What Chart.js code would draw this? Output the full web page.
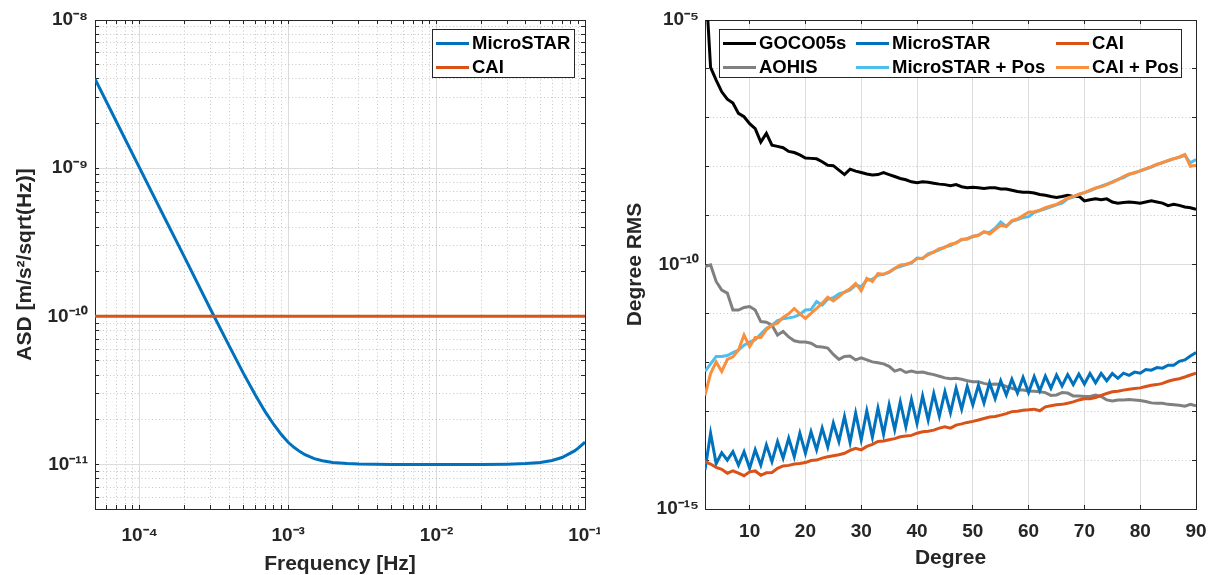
<!DOCTYPE html>
<html><head><meta charset="utf-8">
<script src="https://cdn.jsdelivr.net/npm/chart.js@4"></script>
<style>
html,body{margin:0;padding:0;background:#fff;}
#wrap{position:relative;width:1215px;height:575px;overflow:hidden;background:#fff;}
.pane{position:absolute;top:0;}
.legend{position:absolute;background:#fff;border:1px solid #262626;box-sizing:border-box;}
.item{position:absolute;display:flex;align-items:center;height:24px;font:bold 18.5px 'Liberation Sans',Arial,sans-serif;color:#000;white-space:nowrap;}
.swatch{display:inline-block;width:33px;height:3px;margin-right:3px;}
</style></head>
<body>
<div id="wrap">
 <div class="pane" style="left:0;width:600px;height:575px"><canvas id="asd" width="600" height="575"></canvas></div>
 <div class="pane" style="left:610px;width:605px;height:575px"><canvas id="rms" width="605" height="575"></canvas></div>
 <div id="legAsd" class="legend" style="left:432px;top:29px;width:143px;height:49px"></div>
 <div id="legRms" class="legend" style="left:719px;top:29px;width:463px;height:49px"></div>
</div>
<script>
// ---------- LEFT PANEL DATA (ASD vs frequency) ----------
const asdFreq = [5e-5, 7e-5, 1e-4, 1.5e-4, 2e-4, 3e-4, 4e-4, 5e-4, 6e-4, 7e-4, 8e-4, 9e-4, 1e-3, 1.1e-3, 1.2e-3, 1.3e-3, 1.5e-3, 1.7e-3, 2e-3, 2.5e-3, 3e-3, 5e-3, 1e-2, 2e-2, 3e-2, 4e-2, 5e-2, 6e-2, 7e-2, 8.5e-2, 9e-2, 1e-1];
const asdMicroSTAR = [4.0e-9, 2.04e-9, 1.0e-9, 4.45e-10, 2.52e-10, 1.115e-10, 6.33e-11, 4.12e-11, 2.95e-11, 2.27e-11, 1.86e-11, 1.59e-11, 1.41e-11, 1.30e-11, 1.22e-11, 1.162e-11, 1.094e-11, 1.058e-11, 1.03e-11, 1.013e-11, 1.006e-11, 1.0e-11, 1.0e-11, 1.0e-11, 1.004e-11, 1.013e-11, 1.03e-11, 1.063e-11, 1.113e-11, 1.234e-11, 1.287e-11, 1.414e-11];
const caiFreq = [5e-5, 1e-1];
const asdCAI = [1e-10, 1e-10];
const asdXMajor = [1e-4, 1e-3, 1e-2, 1e-1];
const asdYMajor = [1e-11, 1e-10, 1e-9, 1e-8];

// ---------- RIGHT PANEL DATA (degree RMS) ----------
const degrees = [2,3,4,5,6,7,8,9,10,11,12,13,14,15,16,17,18,19,20,21,22,23,24,25,26,27,28,29,30,31,32,33,34,35,36,37,38,39,40,41,42,43,44,45,46,47,48,49,50,51,52,53,54,55,56,57,58,59,60,61,62,63,64,65,66,67,68,69,70,71,72,73,74,75,76,77,78,79,80,81,82,83,84,85,86,87,88,89,90];
const goco05s = [1.0e-4, 1.07e-6, 5.9e-7, 3.4e-7, 2.4e-7, 2.0e-7, 1.23e-7, 1.05e-7, 7.6e-8, 6.0e-8,
 3.2e-8, 4.8e-8, 2.75e-8, 2.6e-8, 2.45e-8, 2.05e-8, 1.95e-8, 1.74e-8, 1.51e-8, 1.48e-8,
 1.45e-8, 1.26e-8, 1.07e-8, 1.05e-8, 8.5e-9, 6.9e-9, 8.9e-9, 8.1e-9, 7.6e-9, 7.1e-9,
 6.8e-9, 6.9e-9, 7.6e-9, 6.9e-9, 6.3e-9, 5.75e-9, 5.4e-9, 4.9e-9, 4.7e-9, 4.9e-9,
 4.8e-9, 4.6e-9, 4.4e-9, 4.3e-9, 4.1e-9, 4.3e-9, 3.9e-9, 3.7e-9, 3.8e-9, 3.7e-9,
 3.6e-9, 3.7e-9, 3.7e-9, 3.5e-9, 3.5e-9, 3.3e-9, 3.1e-9, 3.0e-9, 3.0e-9, 2.9e-9,
 2.7e-9, 2.6e-9, 2.45e-9, 2.35e-9, 2.45e-9, 2.6e-9, 2.45e-9, 2.5e-9, 2.0e-9, 2.1e-9,
 2.2e-9, 2.1e-9, 2.2e-9, 1.9e-9, 1.8e-9, 1.86e-9, 1.9e-9, 1.86e-9, 1.8e-9, 1.9e-9,
 2.0e-9, 1.9e-9, 1.8e-9, 1.6e-9, 1.7e-9, 1.62e-9, 1.5e-9, 1.45e-9, 1.35e-9];
const aohis = [9.1e-11, 9.8e-11, 4.5e-11, 3.0e-11, 2.6e-11, 1.17e-11, 1.17e-11, 1.32e-11, 1.38e-11, 1.17e-11,
 6.8e-12, 6.6e-12, 5.75e-12, 3.6e-12, 4.3e-12, 3.3e-12, 2.75e-12, 2.6e-12, 2.6e-12, 2.45e-12,
 2.1e-12, 2.05e-12, 1.95e-12, 1.45e-12, 1.15e-12, 1.32e-12, 1.35e-12, 1.12e-12, 1.23e-12, 1.12e-12,
 1.02e-12, 9.8e-13, 9.3e-13, 8.3e-13, 6.6e-13, 7.2e-13, 6.2e-13, 6.6e-13, 6.2e-13, 6.3e-13,
 5.9e-13, 5.6e-13, 5.2e-13, 4.8e-13, 4.6e-13, 4.7e-13, 4.5e-13, 4.2e-13, 4.0e-13, 4.0e-13,
 3.7e-13, 3.5e-13, 3.6e-13, 3.5e-13, 3.2e-13, 2.95e-13, 2.7e-13, 2.7e-13, 2.6e-13, 2.55e-13,
 2.5e-13, 2.4e-13, 2.1e-13, 2.15e-13, 2.4e-13, 2.35e-13, 2.05e-13, 2.05e-13, 2.0e-13, 2.0e-13,
 2.15e-13, 2.0e-13, 1.7e-13, 1.62e-13, 1.7e-13, 1.7e-13, 1.74e-13, 1.7e-13, 1.66e-13, 1.58e-13,
 1.48e-13, 1.45e-13, 1.45e-13, 1.38e-13, 1.35e-13, 1.32e-13, 1.26e-13, 1.38e-13, 1.29e-13];
const microSTAR = [6.3e-15, 3.55e-14, 8.5e-15, 1.41e-14, 1.0e-14, 1.48e-14, 7.9e-15, 1.48e-14, 6.8e-15, 1.62e-14,
 7.9e-15, 2.05e-14, 9.3e-15, 2.4e-14, 1.1e-14, 2.8e-14, 1.17e-14, 3.55e-14, 1.38e-14, 3.8e-14,
 1.62e-14, 4.5e-14, 1.86e-14, 5.75e-14, 2.4e-14, 7.8e-14, 2.3e-14, 9.1e-14, 2.6e-14, 1.02e-13,
 2.95e-14, 1.15e-13, 3.4e-14, 1.35e-13, 4.2e-14, 1.55e-13, 4.8e-14, 1.74e-13, 5.6e-14, 2.05e-13,
 6.6e-14, 2.3e-13, 7.9e-14, 2.5e-13, 9.3e-14, 2.95e-13, 1.1e-13, 3.2e-13, 1.35e-13, 3.4e-13,
 1.48e-13, 3.8e-13, 1.8e-13, 4.2e-13, 2.15e-13, 4.5e-13, 2.35e-13, 4.9e-13, 2.4e-13, 5.1e-13,
 2.6e-13, 5.2e-13, 2.95e-13, 5.5e-13, 3.3e-13, 5.6e-13, 3.5e-13, 5.75e-13, 3.6e-13, 5.9e-13,
 3.8e-13, 5.9e-13, 4.2e-13, 5.9e-13, 4.7e-13, 6.0e-13, 5.4e-13, 6.3e-13, 6.0e-13, 7.1e-13,
 6.9e-13, 7.8e-13, 7.6e-13, 8.7e-13, 8.7e-13, 1.05e-12, 1.12e-12, 1.35e-12, 1.58e-12];
const cai = [9.3e-15, 8.3e-15, 7.1e-15, 6.5e-15, 5.4e-15, 6.0e-15, 5.4e-15, 4.8e-15, 5.75e-15, 6.0e-15,
 4.9e-15, 5.5e-15, 5.6e-15, 6.8e-15, 7.6e-15, 7.8e-15, 8.3e-15, 8.5e-15, 8.9e-15, 9.8e-15,
 1.0e-14, 1.1e-14, 1.17e-14, 1.23e-14, 1.29e-14, 1.38e-14, 1.58e-14, 1.74e-14, 1.62e-14, 1.9e-14,
 2.1e-14, 2.4e-14, 2.45e-14, 2.6e-14, 2.75e-14, 3.0e-14, 3.1e-14, 3.2e-14, 3.55e-14, 3.8e-14,
 3.9e-14, 4.1e-14, 4.5e-14, 4.8e-14, 4.5e-14, 5.2e-14, 5.5e-14, 5.9e-14, 6.2e-14, 6.6e-14,
 7.1e-14, 7.6e-14, 7.8e-14, 8.3e-14, 8.9e-14, 9.8e-14, 1.0e-13, 1.05e-13, 1.07e-13, 1.1e-13,
 1.02e-13, 1.23e-13, 1.29e-13, 1.35e-13, 1.38e-13, 1.45e-13, 1.55e-13, 1.7e-13, 1.8e-13, 1.8e-13,
 1.9e-13, 2.1e-13, 2.3e-13, 2.5e-13, 2.55e-13, 2.7e-13, 2.8e-13, 2.9e-13, 3.0e-13, 3.2e-13,
 3.4e-13, 3.5e-13, 3.7e-13, 4.1e-13, 4.4e-13, 4.6e-13, 5.0e-13, 5.5e-13, 6.0e-13];
const microSTARPos = [6.5e-13, 9.3e-13, 1.32e-12, 1.32e-12, 1.38e-12, 1.58e-12, 1.78e-12, 2.24e-12, 2.6e-12, 2.9e-12,
 3.8e-12, 4.9e-12, 5.75e-12, 7.1e-12, 7.8e-12, 8.1e-12, 8.5e-12, 9.5e-12, 1.17e-11, 1.2e-11,
 1.74e-11, 1.48e-11, 1.95e-11, 2.1e-11, 2.5e-11, 2.7e-11, 3.0e-11, 3.8e-11, 3.5e-11, 4.8e-11,
 5.0e-11, 6.0e-11, 6.3e-11, 6.9e-11, 8.3e-11, 9.1e-11, 1.0e-10, 1.07e-10, 1.35e-10, 1.32e-10,
 1.66e-10, 1.8e-10, 2.0e-10, 2.3e-10, 2.45e-10, 2.8e-10, 3.2e-10, 3.4e-10, 3.7e-10, 4.0e-10,
 4.6e-10, 4.5e-10, 5.5e-10, 7.4e-10, 6.0e-10, 7.6e-10, 8.3e-10, 9.1e-10, 9.5e-10, 1.15e-9,
 1.26e-9, 1.38e-9, 1.51e-9, 1.66e-9, 1.8e-9, 2.2e-9, 2.4e-9, 2.7e-9, 2.95e-9, 3.2e-9,
 3.6e-9, 4.0e-9, 4.4e-9, 4.9e-9, 5.5e-9, 6.0e-9, 6.9e-9, 7.6e-9, 8.1e-9, 8.9e-9,
 9.8e-9, 1.1e-8, 1.23e-8, 1.32e-8, 1.45e-8, 1.55e-8, 1.7e-8, 1.2e-8, 1.4e-8];
const caiPos = [2.1e-13, 5.9e-13, 1.02e-12, 6.5e-13, 1.15e-12, 1.29e-12, 1.78e-12, 3.6e-12, 2.1e-12, 3.2e-12,
 3.2e-12, 4.6e-12, 5.75e-12, 6.3e-12, 8.3e-12, 9.8e-12, 1.26e-11, 9.8e-12, 7.9e-12, 1.0e-11,
 1.26e-11, 1.62e-11, 2.15e-11, 1.8e-11, 2.2e-11, 2.75e-11, 3.2e-11, 4.1e-11, 2.9e-11, 5.2e-11,
 4.5e-11, 6.5e-11, 6.3e-11, 7.1e-11, 8.3e-11, 9.8e-11, 1.0e-10, 1.1e-10, 1.32e-10, 1.35e-10,
 1.58e-10, 1.8e-10, 2.1e-10, 2.24e-10, 2.6e-10, 2.75e-10, 3.3e-10, 3.3e-10, 3.8e-10, 3.9e-10,
 4.7e-10, 4.2e-10, 5.2e-10, 6.3e-10, 6.0e-10, 7.9e-10, 8.5e-10, 1.0e-9, 1.17e-9, 1.2e-9,
 1.29e-9, 1.45e-9, 1.58e-9, 1.7e-9, 1.95e-9, 2.3e-9, 2.45e-9, 2.75e-9, 2.95e-9, 3.3e-9,
 3.7e-9, 3.9e-9, 4.3e-9, 4.8e-9, 5.4e-9, 6.3e-9, 7.1e-9, 7.4e-9, 8.3e-9, 9.1e-9,
 1.0e-8, 1.12e-8, 1.2e-8, 1.35e-8, 1.45e-8, 1.58e-8, 1.78e-8, 1.02e-8, 1.07e-8];
const rmsXTicks = [10, 20, 30, 40, 50, 60, 70, 80, 90];
const rmsYGrid = [1e-15, 1e-14, 1e-13, 1e-12, 1e-11, 1e-10, 1e-9, 1e-8, 1e-7, 1e-6, 1e-5];
const rmsYMajor = [1e-15, 1e-10, 1e-5];

// ---------- STYLE ----------
const FONT = "'Liberation Sans', Arial, Helvetica, sans-serif";
const TXT = '#262626';
const AXIS = '#262626';
const GRID_MAJOR = '#dcdcdc';
const GRID_MINOR = '#c6c6c6';
const DOT = [1, 2.5];
const TICK_LEN = -4;   // negative = ticks pointing into the plot box
Chart.defaults.font.family = FONT;

const SUP = {'-':'\u207B','0':'\u2070','1':'\u00B9','2':'\u00B2','3':'\u00B3','4':'\u2074','5':'\u2075','6':'\u2076','7':'\u2077','8':'\u2078','9':'\u2079'};
function powLabel(v){ const e = Math.round(Math.log10(v)); return '10' + String(e).split('').map(c => SUP[c]).join(''); }
function inList(v, list){ return list.some(t => Math.abs(Math.log10(t) - Math.log10(v)) < 1e-6); }
function logGrid(min, max){
  const out = [];
  for (let e = Math.floor(Math.log10(min)); e <= Math.ceil(Math.log10(max)); e++) {
    for (let m = 1; m < 10; m++) {
      const v = Number((m * Math.pow(10, e)).toPrecision(6));
      if (v >= min * (1 - 1e-9) && v <= max * (1 + 1e-9)) out.push(v);
    }
  }
  return out;
}
const tickFont = {size: 19, weight: 'bold', family: FONT};
const titleFont = {size: 21, weight: 'bold', family: FONT, lineHeight: 1.0};
function noPad(s){ s.paddingLeft = 0; s.paddingRight = 0; s.paddingTop = 0; s.paddingBottom = 0; }
function boxAxis(type, position, min, max, gridVals){
  return {
    type, position, min, max,
    afterBuildTicks: s => { s.ticks = gridVals.map(v => ({value: v})); },
    ticks: {display: false, autoSkip: false},
    grid: {drawOnChartArea: false, drawTicks: true, tickLength: TICK_LEN, tickColor: AXIS, tickWidth: 1},
    border: {display: true, color: AXIS, width: 1},
    afterFit: s => { if (position === 'top') s.height = 0; else s.width = 0; noPad(s); }
  };
}
function logAxis(position, min, max, gridVals, major, size, pad){
  const horiz = position === 'bottom';
  return {
    type: 'logarithmic', position, min, max,
    afterBuildTicks: s => { s.ticks = gridVals.map(v => ({value: v})); },
    afterFit: s => { if (horiz) s.height = size; else s.width = size; noPad(s); },
    ticks: {autoSkip: false, maxRotation: 0, padding: pad - TICK_LEN, font: tickFont, color: TXT,
            callback: v => inList(v, major) ? powLabel(v) : ''},
    grid: {drawTicks: true, tickLength: TICK_LEN, tickColor: AXIS, tickWidth: 1, lineWidth: 1,
           color: ctx => (!ctx.tick || inList(ctx.tick.value, major)) ? GRID_MAJOR : GRID_MINOR},
    border: {display: true, color: AXIS, width: 1,
             dash: ctx => (ctx.tick && !inList(ctx.tick.value, major)) ? DOT : []}
  };
}
const common = {
  responsive: false, animation: false, devicePixelRatio: 1,
  plugins: {legend: {display: false}, tooltip: {enabled: false}},
  elements: {point: {radius: 0}, line: {tension: 0}}
};

// ---------- LEFT CHART ----------
const asdDatasets = [
  {label: 'MicroSTAR', data: asdFreq.map((f, i) => ({x: f, y: asdMicroSTAR[i]})), borderColor: '#0072BD', borderWidth: 3, order: 1},
  {label: 'CAI', data: caiFreq.map((f, i) => ({x: f, y: asdCAI[i]})), borderColor: '#D95319', borderWidth: 3, order: 0}
];
asdDatasets.forEach(d => { d.xAxisID = 'x'; d.yAxisID = 'y'; d.pointRadius = 0; d.fill = false; });
const asdXGrid = logGrid(5e-5, 1e-1);
const asdYGrid = logGrid(5e-12, 1e-8);
const xL = logAxis('bottom', 5e-5, 1e-1, asdXGrid, asdXMajor, 66, 15);
xL.title = {display: true, text: 'Frequency [Hz]', font: titleFont, color: TXT, padding: {top: 0, bottom: 0}};
const yL = logAxis('left', 5e-12, 1e-8, asdYGrid, asdYMajor, 95, 7);
yL.title = {display: true, text: 'ASD [m/s\u00B2/sqrt(Hz)]', font: titleFont, color: TXT, padding: {top: 15, bottom: 0}};
new Chart(document.getElementById('asd'), {
  type: 'line',
  data: {datasets: asdDatasets},
  options: Object.assign({}, common, {
    layout: {padding: {left: 0, top: 20, right: 15, bottom: 0}},
    scales: {x: xL, y: yL,
             x2: boxAxis('logarithmic', 'top', 5e-5, 1e-1, asdXGrid),
             y2: boxAxis('logarithmic', 'right', 5e-12, 1e-8, asdYGrid)}
  })
});

// ---------- RIGHT CHART ----------
const rmsSeries = [
  {label: 'GOCO05s', values: goco05s, color: '#000000', order: 5},
  {label: 'AOHIS', values: aohis, color: '#808080', order: 4},
  {label: 'MicroSTAR', values: microSTAR, color: '#0072BD', order: 3},
  {label: 'MicroSTAR + Pos', values: microSTARPos, color: '#4DBEEE', order: 1},
  {label: 'CAI', values: cai, color: '#D95319', order: 2},
  {label: 'CAI + Pos', values: caiPos, color: '#FA8F3E', order: 0}
];
const rmsDatasets = rmsSeries.map(s => ({
  label: s.label, data: degrees.map((n, i) => ({x: n, y: s.values[i]})),
  borderColor: s.color, borderWidth: 3, pointRadius: 0, order: s.order, xAxisID: 'x', yAxisID: 'y', fill: false
}));
const xR = {
  type: 'linear', position: 'bottom', min: 2, max: 90,
  afterBuildTicks: s => { s.ticks = rmsXTicks.map(v => ({value: v})); },
  afterFit: s => { s.height = 66; noPad(s); },
  ticks: {autoSkip: false, maxRotation: 0, padding: 11 - TICK_LEN, font: tickFont, color: TXT, callback: v => String(v)},
  grid: {drawTicks: true, tickLength: TICK_LEN, tickColor: AXIS, tickWidth: 1, color: GRID_MAJOR, lineWidth: 1},
  border: {display: true, color: AXIS, width: 1},
  title: {display: true, text: 'Degree', font: titleFont, color: TXT, padding: {top: 0, bottom: 6}}
};
const yR = logAxis('left', 1e-15, 1e-5, rmsYGrid, rmsYMajor, 95, 6);
yR.title = {display: true, text: 'Degree RMS', font: titleFont, color: TXT, padding: {top: 15, bottom: 0}};
new Chart(document.getElementById('rms'), {
  type: 'line',
  data: {datasets: rmsDatasets},
  options: Object.assign({}, common, {
    layout: {padding: {left: 0, top: 20, right: 19, bottom: 0}},
    scales: {x: xR, y: yR,
             x2: boxAxis('linear', 'top', 2, 90, rmsXTicks),
             y2: boxAxis('logarithmic', 'right', 1e-15, 1e-5, rmsYGrid)}
  })
});

// ---------- LEGENDS (HTML, built from the datasets) ----------
function buildLegend(el, entries){
  entries.forEach(e => {
    const it = document.createElement('div');
    it.className = 'item';
    it.style.left = e.left + 'px';
    it.style.top = e.top + 'px';
    const sw = document.createElement('span');
    sw.className = 'swatch';
    sw.style.background = e.color;
    it.appendChild(sw);
    it.appendChild(document.createTextNode(e.label));
    el.appendChild(it);
  });
}
const rowTops = [1, 25];
buildLegend(document.getElementById('legAsd'), asdDatasets.map((d, i) => ({label: d.label, color: d.borderColor, left: 3, top: rowTops[i]})));
const rmsCols = {'GOCO05s': [3, 0], 'AOHIS': [3, 1], 'MicroSTAR': [136, 0], 'MicroSTAR + Pos': [136, 1], 'CAI': [336, 0], 'CAI + Pos': [336, 1]};
buildLegend(document.getElementById('legRms'), rmsSeries.map(s => ({label: s.label, color: s.color, left: rmsCols[s.label][0], top: rowTops[rmsCols[s.label][1]]})));
</script>
</body></html>
